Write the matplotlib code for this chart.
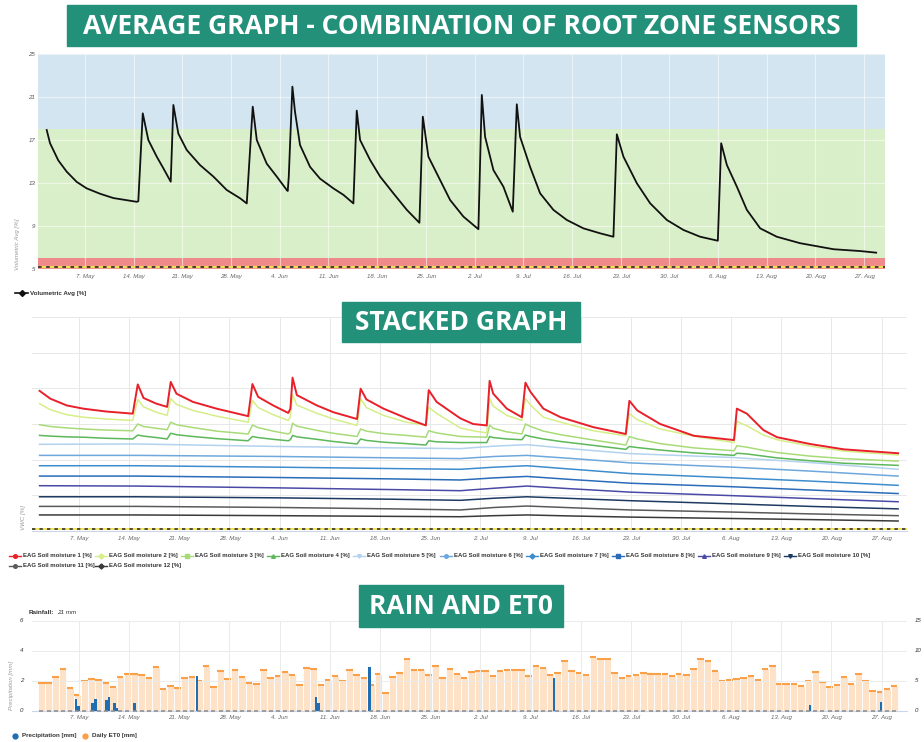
import numpy as np
import matplotlib
matplotlib.use('Agg')
import matplotlib.pyplot as plt
from matplotlib.patches import Rectangle
from matplotlib.lines import Line2D

plt.rcParams['font.family'] = ['Liberation Sans', 'DejaVu Sans']

W, H = 924, 742
TEAL = '#23907a'

# x axis: days counted from 1 May
tick_days = [6, 13, 20, 27, 34, 41, 48, 55, 62, 69, 76, 83, 90, 97, 104, 111, 118]
tick_labels = ['7. May', '14. May', '21. May', '28. May', '4. Jun', '11. Jun', '18. Jun',
               '25. Jun', '2. Jul', '9. Jul', '16. Jul', '23. Jul', '30. Jul', '6. Aug',
               '13. Aug', '20. Aug', '27. Aug']

# --- average graph ---
avg_days = [0.49, 0.97, 2.16, 3.37, 4.81, 6.24, 8.16, 10.07, 12.0, 13.43, 13.66, 14.30, 15.10,
            16.31, 17.26, 18.32, 18.70, 19.41, 20.62, 22.53, 24.45, 26.37, 28.29, 29.25, 30.11,
            30.69, 32.12, 33.56, 35.0, 35.14, 35.29, 35.48, 35.81, 36.19, 36.91, 38.35, 39.79,
            41.70, 43.14, 44.58, 45.06, 45.54, 46.98, 48.42, 50.33, 52.26, 54.07, 54.56, 55.36,
            57.04, 58.48, 60.40, 62.55, 63.04, 63.51, 64.71, 66.14, 67.49, 68.07, 68.54, 69.98,
            71.42, 73.33, 75.26, 77.65, 80.05, 81.96, 82.45, 83.40, 85.33, 87.24, 89.64, 92.03,
            94.43, 96.97, 97.45, 98.27, 99.70, 101.14, 103.06, 105.45, 108.80, 113.59, 117.43,
            119.73]
avg_vals = [17.93, 16.7, 15.1, 14.05, 13.1, 12.5, 12.0, 11.6, 11.4, 11.25, 11.3, 19.48, 17.0,
            15.45, 14.37, 13.12, 20.26, 17.6, 16.07, 14.67, 13.6, 12.35, 11.58, 11.1, 20.1,
            17.0, 14.8, 13.6, 12.35, 12.26, 13.6, 16.7, 21.96, 19.6, 16.53, 14.5, 13.4,
            12.5, 11.9, 11.1, 19.73, 17.0, 15.14, 13.6, 12.04, 10.5, 9.3, 19.17, 15.45,
            13.28, 11.42, 9.87, 8.7, 21.19, 17.3, 14.2, 12.66, 10.33, 20.32, 17.3, 14.5,
            12.04, 10.5, 9.56, 8.78, 8.32, 8.0, 17.53, 15.45, 12.97, 11.11, 9.56, 8.63,
            8.0, 7.63, 16.7, 14.67, 12.66, 10.5, 8.78, 8.0, 7.4, 6.84, 6.67,
            6.52]
avg_yticks = [5, 9, 13, 17, 21, 25]
band_wet = 18      # blue above
band_dry = 6       # red below
refill_line = 5.2

# --- stacked graph ---
knot_days = [0.5, 2.0, 4.3, 6.6, 9.8, 13.5, 14.2, 15.0, 16.8, 18.3, 18.8, 19.6, 21.9, 25.2,
             29.6, 30.2, 31.0, 33.1, 35.2, 35.5, 35.8, 36.4, 39.2, 41.5, 44.8, 45.3, 46.1,
             48.5, 51.7, 54.4, 54.8, 55.9, 59.2, 61.0, 62.9, 63.3, 63.8, 65.7, 67.8, 68.3,
             69.0, 70.8, 73.2, 77.8, 82.3, 82.8, 83.9, 87.1, 91.8, 97.4, 97.8, 99.2, 101.5,
             103.4, 108.0, 112.7, 120.3]
moist1 = [39.3, 37.1, 35.2, 34.3, 33.5, 32.9, 41.1, 37.3, 35.7, 34.8, 41.8, 38.5, 36.2, 34.3,
          32.2, 41.2, 37.6, 35.2, 33.1, 34.3, 43.0, 38.1, 35.2, 33.3, 31.4, 39.9, 36.9,
          34.3, 31.6, 29.6, 39.5, 36.2, 31.6, 30.0, 29.6, 42.1, 38.5, 34.3, 31.9, 41.6,
          39.0, 34.3, 31.9, 29.1, 27.2, 36.5, 33.8, 30.0, 26.7, 25.5, 34.3, 32.9, 28.3,
          26.3, 24.4, 22.9, 21.8]
moist2 = [35.7, 34.0, 32.6, 31.9, 31.4, 31.0, 36.9, 34.8, 33.3, 32.4, 37.1, 35.5, 33.8, 32.2,
          30.5, 36.6, 34.6, 32.6, 31.0, 32.0, 38.2, 35.3, 33.0, 31.4, 29.6, 37.1, 34.6,
          32.4, 30.5, 29.7, 34.7, 33.0, 28.9, 28.1, 27.5, 37.1, 35.0, 32.4, 31.0, 37.1,
          35.3, 31.9, 30.5, 28.1, 26.7, 32.9, 31.2, 28.6, 26.6, 24.8, 30.7, 29.5, 26.9,
          25.6, 23.8, 22.4, 21.3]
moist3 = [29.8, 29.3, 28.9, 28.6, 28.3, 28.1, 30.0, 29.3, 28.8, 28.4, 30.5, 29.8, 29.0, 28.0,
          27.2, 29.7, 29.0, 28.0, 27.2, 27.6, 30.2, 29.4, 28.2, 27.4, 26.5, 28.6, 28.0,
          27.3, 26.8, 26.3, 28.1, 27.5, 26.5, 26.4, 26.3, 29.7, 28.8, 27.8, 27.2, 30.0,
          29.3, 28.0, 27.0, 25.5, 24.1, 26.5, 25.8, 24.5, 23.3, 22.5, 23.9, 23.5, 22.6,
          22.0, 21.0, 20.3, 19.6]
moist4 = [26.8, 26.6, 26.4, 26.3, 26.0, 25.8, 26.9, 26.6, 26.2, 25.8, 27.4, 27.0, 26.5, 25.9,
          25.3, 26.5, 26.2, 25.7, 25.3, 25.6, 26.8, 26.4, 25.7, 25.1, 24.4, 25.8, 25.4,
          24.9, 24.5, 24.1, 25.3, 25.0, 24.8, 24.8, 24.8, 26.5, 26.2, 25.8, 25.6, 26.9,
          26.5, 25.8, 25.1, 24.0, 22.9, 23.7, 23.4, 22.7, 21.9, 21.2, 21.8, 21.6, 21.0,
          20.5, 19.7, 19.0, 18.4]
smooth_days = [0.5, 14, 33.6, 50, 59.2, 64, 68.5, 75, 82.9, 97.3, 108, 120.3]
moist5 = [24.3, 24.4, 23.7, 23.3, 23.1, 23.8, 24.2, 23.0, 21.7, 20.6, 19.2, 17.3]
moist6 = [21.2, 21.2, 20.9, 20.5, 20.3, 20.9, 21.2, 20.3, 19.1, 17.9, 16.8, 15.4]
moist7 = [18.3, 18.3, 17.9, 17.5, 17.3, 17.9, 18.3, 17.3, 16.1, 14.9, 14.0, 12.8]
moist8 = [15.4, 15.4, 15.0, 14.6, 14.3, 14.9, 15.3, 14.4, 13.4, 12.4, 11.5, 10.5]
moist9 = [12.7, 12.6, 12.1, 11.6, 11.3, 12.0, 12.6, 11.8, 10.9, 9.9, 9.1, 8.2]
moist10 = [9.6, 9.6, 9.3, 8.9, 8.6, 9.2, 9.6, 9.1, 8.5, 7.6, 6.9, 6.2]
moist11 = [6.9, 6.9, 6.6, 6.2, 5.9, 6.6, 7.0, 6.5, 5.9, 5.3, 4.8, 4.3]
moist12 = [4.5, 4.5, 4.3, 4.1, 4.0, 4.3, 4.5, 4.2, 3.9, 3.5, 3.2, 2.8]
stack_refill = 0.47
moist_colors = ['#e8202a', '#d6ee88', '#a8db78', '#5cb85a', '#b3d2ee', '#6ea8dc',
                '#3d8ccc', '#2a6cb8', '#4a4aa6', '#1e3a63', '#5a5a5a', '#3a3a3a']
moist_markers = ['o', 'D', 's', '^', 'v', 'o', 'D', 's', '^', 'v', 'o', 'D']

# --- rain and ET0 ---
et0_mm = [4.64, 4.64, 5.64, 6.86, 3.69, 2.53, 4.97, 5.19, 5.08, 4.53, 3.97, 5.53,
          6.03, 6.03, 5.9, 5.36, 7.19, 3.53, 4.08, 3.81, 5.47, 5.64, 4.97, 7.47,
          3.92, 6.53, 5.31, 6.81, 5.64, 4.64, 4.36,
          6.75, 5.36, 5.81, 6.47, 5.97, 4.19, 7.03, 6.92, 4.25, 5.08, 5.75, 4.97, 6.81, 5.86,
          5.47, 4.19, 6.14, 2.92, 5.64, 6.19, 8.58, 6.81, 6.75, 5.86, 7.47, 5.36, 6.92, 6.03,
          5.47, 6.36,
          6.64, 6.64, 5.81, 6.58, 6.69, 6.81, 6.75, 5.81, 7.47, 7.03, 5.86, 6.19, 8.25, 6.64,
          6.31, 5.97, 8.92, 8.64, 8.53, 6.19, 5.36, 5.81, 5.97, 6.25, 6.03, 6.03, 6.03, 5.69,
          6.14, 5.97, 6.97,
          8.64, 8.31, 6.53, 4.92, 5.03, 5.25, 5.42, 5.69, 5.08, 6.97, 7.42, 4.36, 4.36, 4.36,
          4.08, 4.97, 6.42, 4.81, 3.97, 4.31, 5.53, 4.42, 6.08, 4.97, 3.31, 3.08, 3.53, 4.03]
et0_days = np.arange(len(et0_mm)) + 0.75
rain_days = [5.58, 5.9, 7.86, 8.27, 9.81, 10.19, 10.93, 11.2, 13.77, 22.46, 39.07, 39.39,
             46.56, 72.3, 108.0, 117.9]
rain_mm = [0.78, 0.31, 0.53, 0.76, 0.71, 0.93, 0.53, 0.16, 0.53, 2.33, 0.93, 0.53, 2.93,
           2.15, 0.34, 0.59]


def box(x0, y0, x1, y1):
    return [x0 / W, 1 - y1 / H, (x1 - x0) / W, (y1 - y0) / H]


def fx(x):
    return x / W


def fy(y):
    return 1 - y / H


def banner(x0, y0, x1, y1, txt):
    fig.add_artist(Rectangle((fx(x0), fy(y1)), (x1 - x0) / W, (y1 - y0) / H,
                             transform=fig.transFigure, color=TEAL, zorder=5))
    fig.text(fx((x0 + x1) / 2), fy((y0 + y1) / 2 + 1), txt, color='white', ha='center',
             va='center', fontsize=19, fontweight='bold',
             family=['Open Sans', 'DejaVu Sans'], zorder=6)


def style_x(ax, left, right):
    ax.set_xlim(left, right)
    ax.set_xticks(tick_days)
    ax.set_xticklabels(tick_labels, fontsize=4.4, style='italic', color='#666666')
    ax.tick_params(axis='both', length=0, pad=3.5)
    for s in ax.spines.values():
        s.set_visible(False)


fig = plt.figure(figsize=(9.24, 7.42), dpi=100)
fig.patch.set_facecolor('white')

# ---------------- average graph ----------------
ax1 = fig.add_axes(box(38, 54, 885, 269))
ax1.axhspan(band_wet, 25, color='#d3e5f0', lw=0, zorder=0.5)
ax1.axhspan(band_dry, band_wet, color='#d9efc9', lw=0, zorder=0.5)
ax1.axhspan(5, band_dry, color='#f08a8a', lw=0, zorder=0.5)
ax1.grid(True, color='white', alpha=0.55, lw=0.8)
ax1.axhline(refill_line, color='#f2dc58', lw=1.6, zorder=2)
ax1.axhline(refill_line, color='#333333', lw=1.3, ls=(0, (2, 2.5)), zorder=2.1)
ax1.plot(avg_days, avg_vals, color='#111111', lw=1.3, zorder=3)
ax1.set_ylim(5, 25)
ax1.set_yticks(avg_yticks)
ax1.set_yticklabels([str(v) for v in avg_yticks], fontsize=4.4, style='italic', color='#555555')
style_x(ax1, -0.76, 121.0)
ax1.tick_params(axis='y', pad=2)

fig.text(fx(17), fy(244), 'Volumetric Avg [%]', rotation=90, ha='center', va='center',
         fontsize=4.4, style='italic', color='#999999')
fig.add_artist(Line2D([fx(15), fx(28)], [fy(293), fy(293)], color='#111111', lw=1.2,
                      transform=fig.transFigure))
fig.add_artist(Line2D([fx(21.5)], [fy(293)], color='#111111', marker='D', ms=3,
                      transform=fig.transFigure))
fig.text(fx(30), fy(293), 'Volumetric Avg [%]', ha='left', va='center', fontsize=4.5,
         fontweight='bold', color='#333333')

# ---------------- stacked graph ----------------
ax2 = fig.add_axes(box(31.7, 317, 906.7, 531))
ax2.set_ylim(0, 60)
ax2.set_yticks(np.arange(0, 61, 10))
ax2.set_yticklabels([])
ax2.grid(True, color='#e8e8e8', lw=0.7)
ax2.set_axisbelow(True)
ax2.axhline(stack_refill, color='#f2e35c', lw=1.4, zorder=2)
ax2.axhline(stack_refill, color='#333333', lw=1.2, ls=(0, (2, 2.5)), zorder=2.1)
stack_series = [(knot_days, moist1), (knot_days, moist2), (knot_days, moist3), (knot_days, moist4),
                (smooth_days, moist5), (smooth_days, moist6), (smooth_days, moist7),
                (smooth_days, moist8), (smooth_days, moist9), (smooth_days, moist10),
                (smooth_days, moist11), (smooth_days, moist12)]
for i, (d, v) in enumerate(stack_series):
    ax2.plot(d, v, color=moist_colors[i], lw=1.4 if i == 0 else 1.1, zorder=3 + (12 - i) * 0.01)
style_x(ax2, -0.6, 121.5)
ax2.spines['bottom'].set_visible(True)
ax2.spines['bottom'].set_color('#ccd6eb')

fig.text(fx(24), fy(517), 'VWC [%]', rotation=90, ha='center', va='center',
         fontsize=4.4, style='italic', color='#999999')
for i in range(12):
    row, col = divmod(i, 10)
    xm = 15 + col * 86.1
    ym = 556 + row * 10
    fig.add_artist(Line2D([fx(xm - 6), fx(xm + 6)], [fy(ym), fy(ym)], color=moist_colors[i],
                          lw=1.0, transform=fig.transFigure))
    fig.add_artist(Line2D([fx(xm)], [fy(ym)], color=moist_colors[i], marker=moist_markers[i],
                          ms=2.6, transform=fig.transFigure))
    fig.text(fx(xm + 8), fy(ym), 'EAG Soil moisture %d [%%]' % (i + 1), ha='left', va='center',
             fontsize=4.3, fontweight='bold', color='#333333')

# ---------------- rain and ET0 ----------------
ax3 = fig.add_axes(box(31.7, 620.5, 906.7, 710.5))
ax3e = ax3.twinx()
ax3.set_zorder(ax3e.get_zorder() + 1)
ax3.patch.set_visible(False)
ax3e.bar(et0_days, et0_mm, width=1.0, color='#fde2c8', edgecolor='white', lw=0.6, zorder=1)
ax3e.hlines(et0_mm, et0_days - 0.45, et0_days + 0.45, color='#f9a048', lw=1.5, zorder=2)
ax3e.set_ylim(0, 15)
ax3e.set_yticks([0, 5, 10, 15])
ax3e.set_yticklabels(['0', '5', '10', '15'], fontsize=4.4, style='italic', color='#333333')
ax3e.tick_params(length=0, pad=6)
for s in ax3e.spines.values():
    s.set_visible(False)

ax3.bar(rain_days, rain_mm, width=0.38, color='#1f6db3', zorder=3)
ax3.plot(et0_days, np.zeros(len(et0_days)), ls='none', marker='_', ms=3, mew=1.1,
         color='#8c8c8c', zorder=4)
ax3.set_ylim(0, 6)
ax3.set_yticks([0, 2, 4, 6])
ax3.set_yticklabels(['0', '2', '4', '6'], fontsize=4.4, style='italic', color='#333333')
ax3.grid(True, color='#ebebeb', lw=0.7)
style_x(ax3, -0.6, 121.5)
ax3.tick_params(axis='y', pad=6)
ax3.spines['bottom'].set_visible(True)
ax3.spines['bottom'].set_color('#ccd6eb')

fig.text(fx(11.7), fy(685), 'Precipitation [mm]', rotation=90, ha='center', va='center',
         fontsize=4.4, style='italic', color='#999999')
t_rain = fig.text(fx(29), fy(612), 'Rainfall:', ha='left', va='center', fontsize=4.6,
                  fontweight='bold', color='#333333')
fig.canvas.draw()
bb = t_rain.get_window_extent(renderer=fig.canvas.get_renderer())
fig.text(fx(bb.x1 + 2.5), fy(612), '21 mm', ha='left', va='center', fontsize=4.6,
         style='italic', color='#333333')
for xm, col, lab in [(15, '#1f6db3', 'Precipitation [mm]'), (85, '#f9a048', 'Daily ET0 [mm]')]:
    fig.add_artist(Line2D([fx(xm)], [fy(736)], color=col, marker='o', ms=3.5,
                          transform=fig.transFigure))
    fig.text(fx(xm + 7), fy(736), lab, ha='left', va='center', fontsize=4.5,
             fontweight='bold', color='#333333')

# banners
banner(67, 5, 856, 46, 'AVERAGE GRAPH - COMBINATION OF ROOT ZONE SENSORS')
banner(342, 302, 580, 342, 'STACKED GRAPH')
banner(359, 585, 563, 627, 'RAIN AND ET0')

fig.savefig('out.png', dpi=100)
